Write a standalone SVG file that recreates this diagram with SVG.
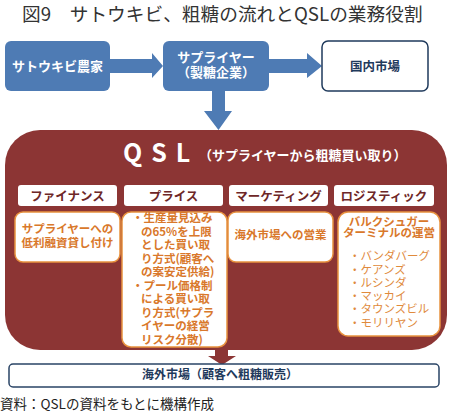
<svg xmlns="http://www.w3.org/2000/svg" width="450" height="414" viewBox="0 0 450 414">
<defs>
<style>
.jp{font-family:"Noto Sans CJK JP","Liberation Sans",sans-serif}
.w{fill:#fff;font-weight:bold}
.tab{fill:#fff}
.tabt{fill:#6e2727;font-weight:bold;font-size:12.5px;text-anchor:middle}
.cb{fill:#fff;stroke:#e8923f;stroke-width:1.5}
.ot{fill:#d9782b;font-weight:bold;font-size:11.5px}
.ol{fill:#e08a3c;font-size:11.5px}
.navy{fill:#1f3a5c;font-weight:bold}
.blue{fill:#4e7bb4}
</style>
</defs>
<rect width="450" height="414" fill="#fff"/>
<text class="jp" x="22" y="21" font-size="18.7" fill="#333">図9　サトウキビ、粗糖の流れとQSLの業務役割</text>

<g id="connectors">
<polygon class="blue" points="110,59 152,59 152,53 163,66 152,78 152,73 110,73"/>
<polygon class="blue" points="269,59 307,59 307,53 322,66 307,78 307,73 269,73"/>
<polygon class="blue" points="212,91 225,91 225,111 232,111 218.5,130 204,111 212,111"/>
<polygon fill="#8c3534" points="215,345 228,345 228,356 236,356 222,365 208,356 215,356"/>
</g>

<g id="farmers">
<rect class="blue" x="5" y="41" width="105" height="50" rx="6"/>
<text class="jp w" x="57.5" y="70.5" font-size="13" text-anchor="middle">サトウキビ農家</text>
</g>
<g id="supplier">
<rect class="blue" x="163" y="41" width="106" height="50" rx="6"/>
<text class="jp w" font-size="13" text-anchor="middle"><tspan x="216" y="61.5">サプライヤー</tspan><tspan x="216" y="77">（製糖企業）</tspan></text>
</g>
<g id="domestic">
<rect x="322" y="41" width="106" height="50" rx="6" fill="#fff" stroke="#1f3a5c" stroke-width="1.5"/>
<text class="jp navy" x="375" y="70.5" font-size="12.5" text-anchor="middle">国内市場</text>
</g>

<g id="qsl">
<path fill="#8c3534" d="M40,130 H412 A35,35 0 0 1 447,165 V315 A35,35 0 0 1 412,350 H40 A35,35 0 0 1 5,315 V165 A35,35 0 0 1 40,130 Z"/>
<text class="jp w" x="123" y="162" font-size="25" letter-spacing="9">QSL</text>
<text class="jp w" x="199" y="160" font-size="13">（サプライヤーから粗糖買い取り）</text>
</g>

<g id="finance">
<rect class="tab" x="18" y="185" width="99" height="21" rx="3"/>
<text class="jp tabt" x="67.5" y="200.5">ファイナンス</text>
<rect class="cb" x="15" y="212" width="105" height="50" rx="8"/>
<text class="jp ot" text-anchor="middle"><tspan x="67.5" y="233">サプライヤーへの</tspan><tspan x="67.5" y="247">低利融資貸し付け</tspan></text>
</g>

<g id="price">
<rect class="tab" x="124" y="185" width="99" height="21" rx="3"/>
<text class="jp tabt" x="173.5" y="200.5">プライス</text>
<rect class="cb" x="122" y="212" width="105" height="135" rx="9"/>
<text class="jp ot"><tspan x="132" y="222">・生産量見込み</tspan><tspan x="141" y="235.5">の65%を上限</tspan><tspan x="141" y="249">とした買い取</tspan><tspan x="141" y="262.5">り方式(顧客へ</tspan><tspan x="141" y="276">の案安定供給)</tspan><tspan x="132" y="289.5">・プール価格制</tspan><tspan x="141" y="303">による買い取</tspan><tspan x="141" y="316.5">り方式(サプラ</tspan><tspan x="141" y="330">イヤーの経営</tspan><tspan x="141" y="343.5">リスク分散)</tspan></text>
</g>

<g id="marketing">
<rect class="tab" x="229" y="185" width="99" height="21" rx="3"/>
<text class="jp tabt" x="278.5" y="200.5">マーケティング</text>
<rect class="cb" x="228" y="212" width="105" height="50" rx="8"/>
<text class="jp ot" x="280.5" y="238.5" text-anchor="middle">海外市場への営業</text>
</g>

<g id="logistics">
<rect class="tab" x="334" y="185" width="100" height="21" rx="3"/>
<text class="jp tabt" x="384" y="200.5">ロジスティック</text>
<rect class="cb" x="338" y="212" width="102" height="124" rx="10"/>
<text class="jp ot" text-anchor="middle" font-size="11"><tspan x="389" y="225.5">バルクシュガー</tspan><tspan x="389" y="237">ターミナルの運営</tspan></text>
<text class="jp ol"><tspan x="349" y="260">・バンダバーグ</tspan><tspan x="349" y="273.5">・ケアンズ</tspan><tspan x="349" y="286.5">・ルシンダ</tspan><tspan x="349" y="300">・マッカイ</tspan><tspan x="349" y="313">・タウンズビル</tspan><tspan x="349" y="326.5">・モリリヤン</tspan></text>
</g>

<g id="overseas">
<rect x="9" y="364" width="430" height="23" rx="4" fill="#fff" stroke="#2a4466" stroke-width="1.5"/>
<text class="jp navy" x="220" y="379" font-size="12" text-anchor="middle">海外市場（顧客へ粗糖販売）</text>
</g>

<text class="jp" x="0" y="409" font-size="13.5" fill="#222">資料：QSLの資料をもとに機構作成</text>
</svg>
